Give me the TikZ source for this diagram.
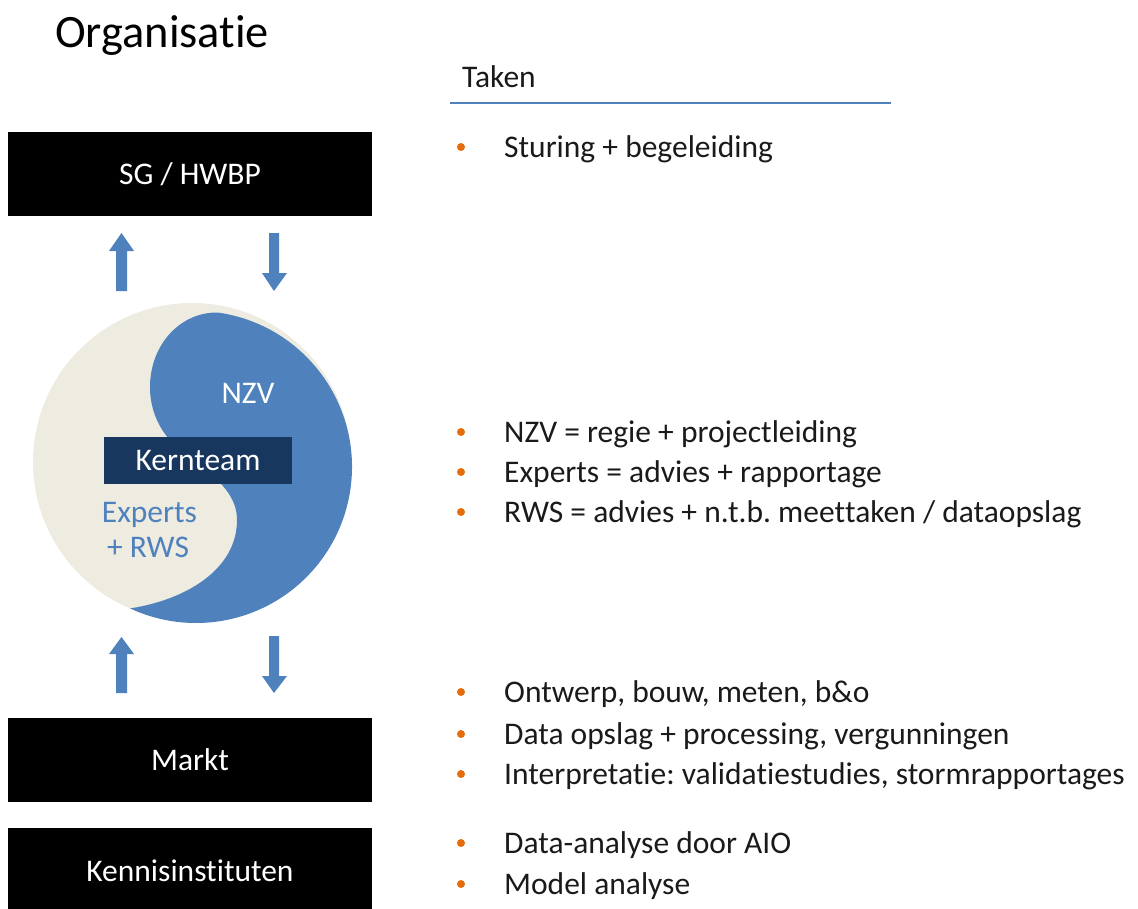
\documentclass[tikz,border=0pt]{standalone}
\usepackage{fontspec}
\setmainfont{Carlito}[RawFeature={-liga;-clig;-dlig;-calt;-hlig;-rlig}]
\definecolor{nzvblue}{HTML}{4F81BD}
\definecolor{cream}{HTML}{EEECE1}
\definecolor{navy}{HTML}{17375E}
\definecolor{bulletorange}{HTML}{E46C0A}
\definecolor{txt}{HTML}{1A1A1A}
\frenchspacing
\begin{document}
\begin{tikzpicture}[x=1pt,y=-1pt,
  fs/.style={font=\fontsize{31.5}{38}\selectfont},
  blackbox/.style={fs,fill=black,minimum width=364pt,minimum height=84pt,inner sep=0pt,text=white,text height=20.3pt,text depth=0pt},
  item/.style={fs,anchor=base west,inner sep=0pt,text=txt},
  dot/.style={circle,fill=bulletorange,inner sep=0pt,minimum size=8pt},
  blockarrow/.style={fill=nzvblue},
  label/.style={fs,anchor=base,inner sep=0pt}]
\useasboundingbox (0,0) rectangle (1138,908);

% title and header
\node[anchor=base west,inner sep=0pt,font=\fontsize{46.4}{52}\selectfont,text=black] (title) at (55,47) {Organisat\kern0pt ie};
\node[item] (taken) at (462,87) {Taken};
\draw[nzvblue,line width=2pt] (450,103) -- (891,103);

% left boxes
\node[blackbox] (sg) at (190,174) {SG / HWBP};
\node[blackbox] (markt) at (190,760) {Markt};
\node[blackbox,minimum height=87pt] (kennis) at (190,871.5) {Kennisinstituten};

% block arrows
\fill[blockarrow] (116,291) -- (116,251) -- (109,251) -- (121.5,233) -- (134,251) -- (127,251) -- (127,291) -- cycle;
\fill[blockarrow] (269,233) -- (279,233) -- (279,273) -- (287,273) -- (274,291) -- (262,273) -- (269,273) -- cycle;
\fill[blockarrow] (116,693) -- (116,654) -- (109,654) -- (121.5,637) -- (134,654) -- (127,654) -- (127,693) -- cycle;
\fill[blockarrow] (269,636) -- (279,636) -- (279,676) -- (287,676) -- (274,693) -- (262,676) -- (269,676) -- cycle;

% yin-yang
\fill[cream] (192,462) circle[radius=159];
\fill[nzvblue] (196,467) ++(-82:156) arc[start angle=-82,end angle=115,radius=156]
  .. controls (185,600) and (237,570) .. (237,520)
  .. controls (237,498) and (222,481) .. (195,462)
  .. controls (168,444) and (150,420) .. (150,387)
  .. controls (150,345) and (180,312) .. (217.7,312.5) -- cycle;
\node[fs,fill=navy,minimum width=188pt,minimum height=47pt,inner sep=0pt,text=white,text height=20.3pt,text depth=0pt] (kern) at (198,460.5) {Kernteam};
\node[label,text=white] (nzv) at (248,403) {NZV};
\node[label,text=nzvblue] (exp) at (149.5,522) {Experts};
\node[label,text=nzvblue] (rws) at (148,557) {+ RWS};

% bullet items
\foreach \y/\t [count=\i] in {157/{Sturing + begeleiding},
  442/{NZV = regie + projectleiding},
  482/{Experts = advies + rapportage},
  522/{RWS = advies + n.t.b. meet\kern0pt taken / dataopslag},
  702/{Ontwerp, bouw, meten, b\&o},
  744/{Data opslag + processing, vergunningen},
  784/{Interpretatie: validatiestudies, stormrapportages},
  853/{Data-analyse door AIO},
  894/{Model analyse}}{
  \node[dot] (b\i) at (461,\y-10) {};
  \node[item] (t\i) at (504,\y) {\t};
}
\end{tikzpicture}
\end{document}
